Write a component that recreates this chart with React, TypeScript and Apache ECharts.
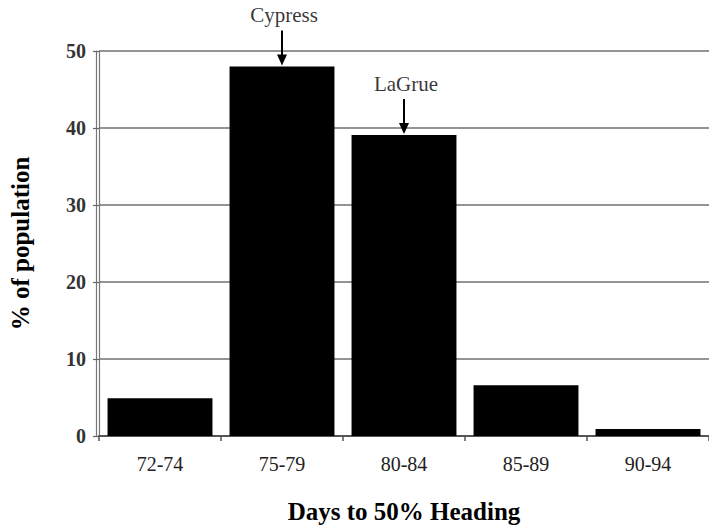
import React, { useEffect, useRef } from "react";
import * as echarts from "echarts";

const categories = ["72-74", "75-79", "80-84", "85-89", "90-94"];
const percentValues = [4.9, 48, 39.1, 6.6, 0.9];
const yTicks = [0, 10, 20, 30, 40, 50];
const annotationCategories = ["75-79", "80-84"];
const annotationLabels = ["Cypress", "LaGrue"];

const SERIF = '"Liberation Serif", "Times New Roman", serif';

export default function App() {
  const ref = useRef<HTMLDivElement>(null);
  useEffect(() => {
    if (!ref.current) return;
    const chart = echarts.init(ref.current, undefined, { renderer: "svg" });
    const annData = annotationCategories.map((c, i) => {
      const idx = categories.indexOf(c);
      return { value: [idx, percentValues[idx]], name: annotationLabels[i] };
    });
    chart.setOption({
      animation: false,
      backgroundColor: "#ffffff",
      grid: { left: 99, width: 615, top: 51, bottom: 92, containLabel: false },
      xAxis: {
        type: "category",
        data: categories,
        name: "Days to 50% Heading",
        nameLocation: "middle",
        nameGap: 63,
        nameTextStyle: { fontFamily: SERIF, fontSize: 25, fontWeight: "bold", color: "#000" },
        axisLine: { lineStyle: { color: "#555", width: 2 } },
        axisTick: { show: true, alignWithLabel: false, length: 5, lineStyle: { color: "#555", width: 1.5 } },
        axisLabel: { fontFamily: SERIF, fontSize: 20, color: "#222", margin: 18 },
      },
      yAxis: [
        {
          type: "value",
          min: yTicks[0],
          max: yTicks[yTicks.length - 1],
          interval: 10,
          name: "% of population",
          nameLocation: "middle",
          nameGap: 66,
          nameTextStyle: { fontFamily: SERIF, fontSize: 25, fontWeight: "bold", color: "#000" },
          axisLine: { show: true, lineStyle: { color: "#777", width: 1.2 } },
          axisTick: { show: true, length: 6, lineStyle: { color: "#666", width: 1.2 } },
          axisLabel: { fontFamily: SERIF, fontSize: 20, fontWeight: "bold", color: "#333", margin: 13 },
          splitLine: { show: true, lineStyle: { color: "#707070", width: 1.5 } },
        },
        {
          type: "value",
          position: "left",
          offset: 3,
          min: yTicks[0],
          max: yTicks[yTicks.length - 1],
          interval: 10,
          axisLine: { show: true, lineStyle: { color: "#777", width: 1.2 } },
          axisTick: { show: false },
          axisLabel: { show: false },
          splitLine: { show: false },
        },
      ],
      series: [
        {
          type: "bar",
          data: percentValues,
          barCategoryGap: "14%",
          itemStyle: { color: "#000" },
          silent: true,
        },
        {
          type: "custom",
          data: annData,
          z: 5,
          silent: true,
          encode: { x: 0, y: 1 },
          renderItem: (params: any, api: any) => {
            const p = api.coord([api.value(0), api.value(1)]);
            const x = p[0];
            const y = p[1];
            return {
              type: "group",
              children: [
                {
                  type: "line",
                  shape: { x1: x, y1: y - 36, x2: x, y2: y - 8 },
                  style: { stroke: "#000", lineWidth: 2 },
                },
                {
                  type: "polygon",
                  shape: { points: [[x - 5, y - 12], [x + 5, y - 12], [x, y - 1]] },
                  style: { fill: "#000" },
                },
              ],
            };
          },
        },
        {
          type: "scatter",
          data: annData,
          symbolSize: 0,
          z: 6,
          silent: true,
          label: {
            show: true,
            position: "inside",
            offset: [2, -51],
            formatter: (p: any) => p.name,
            fontFamily: SERIF,
            fontSize: 21,
            color: "#000",
            textBorderWidth: 0,
            textBorderColor: "transparent",
          },
        },
      ],
    });
    return () => chart.dispose();
  }, []);
  return (
    <div
      ref={ref}
      style={{ position: "fixed", left: 0, top: 0, width: 709, height: 529, background: "#fff" }}
    />
  );
}
